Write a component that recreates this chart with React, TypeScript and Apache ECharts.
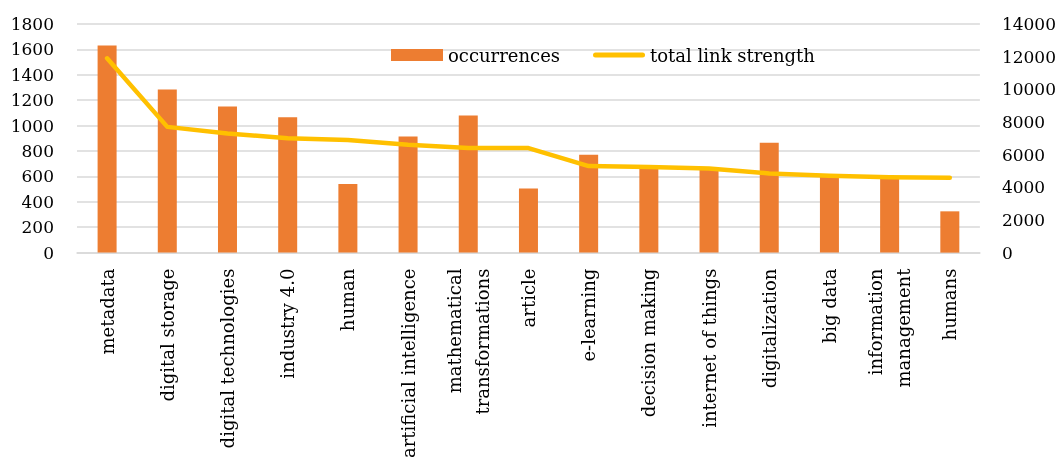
import React, { useEffect, useRef } from "react";
import * as echarts from "echarts";

const categories = [
  "metadata",
  "digital storage",
  "digital technologies",
  "industry 4.0",
  "human",
  "artificial intelligence",
  "mathematical\ntransformations",
  "article",
  "e-learning",
  "decision making",
  "internet of things",
  "digitalization",
  "big data",
  "information\nmanagement",
  "humans",
];

const occurrences = [1630, 1285, 1150, 1065, 540, 915, 1080, 505, 770, 660, 650, 865, 600, 580, 325];

const totalLinkStrength = [11900, 7700, 7300, 7000, 6900, 6600, 6400, 6400, 5300, 5250, 5150, 4850, 4700, 4620, 4580];

const leftTicks = { min: 0, max: 1800, interval: 200 };
const rightTicks = { min: 0, max: 14000, interval: 2000 };

const FONT = "DejaVu Serif";

const LINE_ICON =
  "path://M0,0 L0.01,0 L0,0.01 Z M2.5,3.5 L49.5,3.5 A2.5,2.5 0 0 1 49.5,8.5 L2.5,8.5 A2.5,2.5 0 0 1 2.5,3.5 Z M52,12 L51.99,12 L52,11.99 Z";

export default function App() {
  const ref = useRef<HTMLDivElement>(null);
  useEffect(() => {
    document.body.style.margin = "0";
    document.body.style.overflow = "hidden";
    const chart = echarts.init(ref.current!, null, { renderer: "svg" });
    chart.setOption({
      animation: false,
      textStyle: { fontFamily: FONT },
      grid: { left: 77, right: 78, top: 24, bottom: 205, containLabel: false },
      legend: {
        left: 391,
        top: 46,
        padding: 0,
        itemWidth: 52,
        itemHeight: 12,
        itemGap: 33,
        textStyle: { fontFamily: FONT, fontSize: 18, color: "#000" },
        data: [
          { name: "occurrences", icon: "rect" },
          { name: "total link strength", icon: LINE_ICON },
        ],
      },
      xAxis: {
        type: "category",
        data: categories,
        axisLine: { lineStyle: { color: "#d9d9d9", width: 1.5 } },
        axisTick: { show: false },
        axisLabel: {
          rotate: 90,
          interval: 0,
          margin: 16,
          fontFamily: FONT,
          fontSize: 18,
          color: "#000",
          lineHeight: 28,
        },
      },
      yAxis: [
        {
          type: "value",
          ...leftTicks,
          axisLine: { show: false },
          axisTick: { show: false },
          splitLine: { lineStyle: { color: "#d9d9d9", width: 1.5 } },
          axisLabel: {
            fontFamily: FONT,
            fontSize: 17,
            color: "#000",
            margin: 23,
            formatter: (v: number) => String(v),
          },
        },
        {
          type: "value",
          ...rightTicks,
          position: "right",
          axisLine: { show: false },
          axisTick: { show: false },
          splitLine: { show: false },
          axisLabel: {
            fontFamily: FONT,
            fontSize: 17,
            color: "#000",
            margin: 22,
            formatter: (v: number) => String(v),
          },
        },
      ],
      series: [
        {
          name: "occurrences",
          type: "bar",
          data: occurrences,
          barWidth: 19,
          itemStyle: { color: "#ED7D31" },
          yAxisIndex: 0,
        },
        {
          name: "total link strength",
          type: "line",
          data: totalLinkStrength,
          yAxisIndex: 1,
          symbol: "none",
          lineStyle: { color: "#FFC000", width: 4.5, cap: "round", join: "round" },
          itemStyle: { color: "#FFC000" },
        },
      ],
    });
    return () => chart.dispose();
  }, []);
  return (
    <div
      ref={ref}
      style={{ position: "fixed", left: 0, top: 0, width: 1059, height: 461 }}
    />
  );
}
